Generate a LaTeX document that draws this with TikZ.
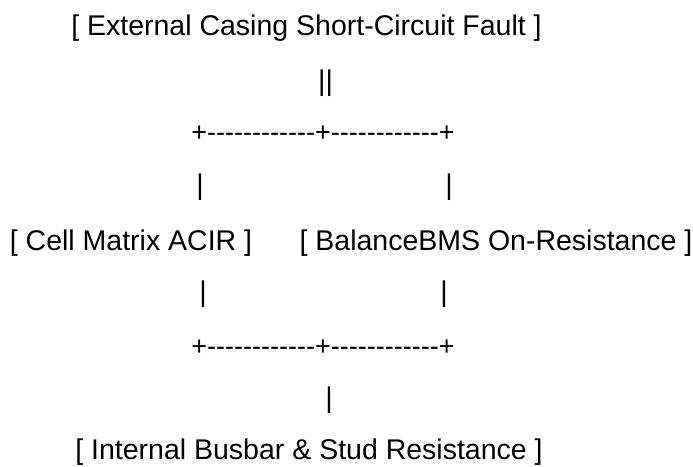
\documentclass[tikz,border=0pt]{standalone}
\usepackage{fontspec}
\setmainfont{Liberation Sans}[Ligatures=TeXOff]
\begin{document}
\begin{tikzpicture}[x=1pt,y=-1pt,
  txt/.style={inner sep=0pt,outer sep=0pt,font=\fontsize{28.5}{34}\selectfont,text=black},
  lbl/.style={txt,anchor=base},
  rule/.style={txt,anchor=center},
  hrule/.style={rule,font=\fontsize{27}{32}\selectfont}]
\fill[white] (0,0) rectangle (693,466);
\useasboundingbox (0,0) rectangle (693,466);
% labels
\node[lbl] (top)  at (306.5,35.5) {[ External Casing Short-Circuit Fault ]};
\node[lbl] (cell) at (131,250)    {[ Cell Matrix ACIR ]};
\node[lbl] (bms)  at (496,250)    {[ BalanceBMS On-Resistance ]};
\node[lbl] (bot)  at (309,459)    {[ Internal Busbar \& Stud Resistance ]};
% ascii connectors
\node[rule]  (dbl) at (325.5,83)  {||};
\node[hrule] (hb1) at (323,134)   {+------------+------------+};
\node[rule]  (vl1) at (200,187)   {|};
\node[rule]  (vr1) at (449,187)   {|};
\node[rule]  (vl2) at (203,294)   {|};
\node[rule]  (vr2) at (444,294)   {|};
\node[hrule] (hb2) at (323,348)   {+------------+------------+};
\node[rule]  (vb)  at (329,400)   {|};
\end{tikzpicture}
\end{document}
